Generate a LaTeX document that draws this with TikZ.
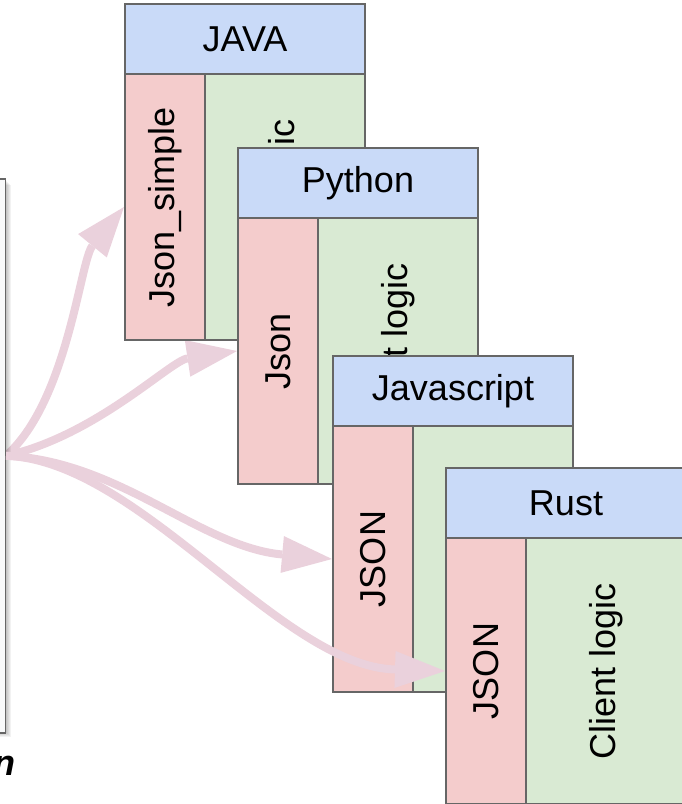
\documentclass[tikz,border=0pt]{standalone}
\usepackage{fontspec}
\setmainfont{Liberation Sans}
\usetikzlibrary{arrows.meta}
\definecolor{hdrblue}{HTML}{C9DAF8}
\definecolor{libred}{HTML}{F4CCCC}
\definecolor{logicgreen}{HTML}{D9EAD3}
\definecolor{edgegray}{HTML}{666666}
\definecolor{flowpink}{HTML}{EAD1DC}
\definecolor{panelfill}{HTML}{F8F9FA}
\pgfdeclarelayer{under}
\pgfdeclarelayer{over}
\pgfdeclarelayer{top}
\pgfsetlayers{under,main,over,top}
\tikzset{
  big/.style={font=\fontsize{36}{43}\selectfont},
  box/.style={draw=edgegray, line width=2pt, anchor=north west, inner sep=0pt},
  hdr/.style={box, fill=hdrblue, minimum width=240pt, minimum height=70pt, big},
  libcol/.style={box, fill=libred, minimum width=80pt, minimum height=266pt},
  logiccol/.style={box, fill=logicgreen, minimum width=160pt, minimum height=266pt},
  vlabel/.style={big, rotate=90, inner sep=0pt},
  flow/.style={draw=flowpink, line width=8pt,
    -{Triangle[length=50pt, width=37pt, line width=0pt]}}
}
% one language block: header on top, library column and client-logic column below
\newcommand{\langblock}[6]{%
  \node[hdr] (#1H) at (#2,#3) {#4};
  \node[libcol] (#1R) at (#2,#3+70) {};
  \node[logiccol] (#1G) at (#2+80,#3+70) {};
  \node[vlabel] (#1Rt) at (#1R.center) {#5};
  \node[vlabel] (#1Gt) at (#1G.center) {#6};
}
\begin{document}
\begin{tikzpicture}[x=1pt, y=-1pt]
\useasboundingbox (0,0) rectangle (682,804);

% source panel on the left with its soft shadow
\foreach \d in {1,2,3,4,5}
  \fill[black, opacity=0.05] (-30,180+\d) rectangle (6+\d,732+\d);
\node[draw=edgegray, line width=1.5pt, fill=panelfill, minimum width=40pt,
      minimum height=554pt, anchor=north east, inner sep=0pt] (src) at (6,178) {};
\node[font=\fontsize{36}{43}\selectfont\bfseries\itshape, anchor=base east,
      inner sep=0pt] (capt) at (16,775) {n};

% stacked language blocks, each one over the previous
\langblock{java}{124}{3}{JAVA}{Json\_simple}{Client logic}
\langblock{py}{237}{147}{Python}{Json}{Client logic}
\langblock{js}{332}{355}{Javascript}{JSON}{Client logic}
\begin{pgfonlayer}{top}
  \langblock{rust}{445}{467}{Rust}{JSON}{Client logic}
\end{pgfonlayer}

% connectors from the source panel to each library column
\begin{pgfonlayer}{under}
  \draw[flow] (src.east) .. controls +(62,-55) and +(-44,54) .. (javaR.west);
  \draw[flow] (src.east) .. controls +(90,-20) and +(-67,10) .. (pyR.west);
\end{pgfonlayer}
\begin{pgfonlayer}{over}
  \draw[flow] (src.east) .. controls +(114,5) and +(-132,-12) .. (jsR.west);
  \draw[flow] (src.east) .. controls +(134,5) and +(-165,-5) .. (rustR.west);
\end{pgfonlayer}
\end{tikzpicture}
\end{document}
